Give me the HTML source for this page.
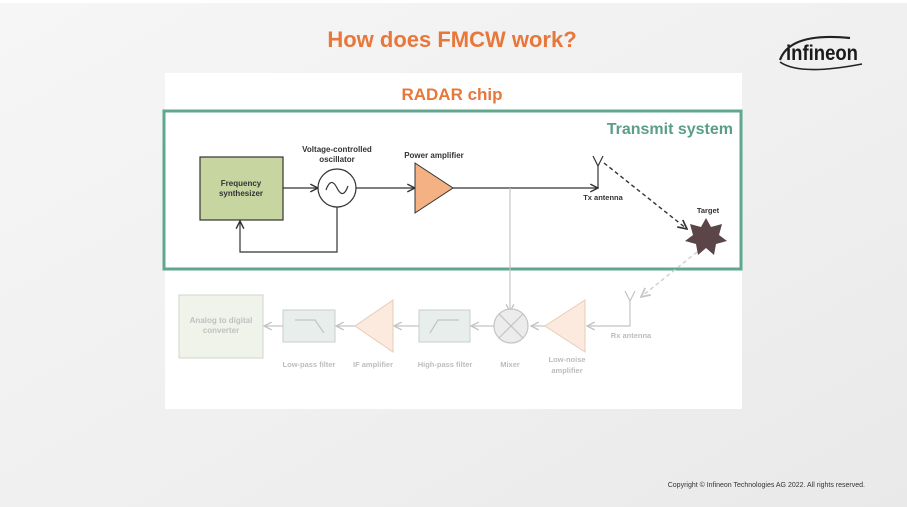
<!DOCTYPE html>
<html><head><meta charset="utf-8"><style>
html,body{margin:0;padding:0;width:907px;height:507px;overflow:hidden;background:#f2f2f2;}
svg{display:block;font-family:"Liberation Sans",sans-serif;}
</style></head><body>
<svg width="907" height="507" viewBox="0 0 907 507" xmlns="http://www.w3.org/2000/svg">
<defs>
<linearGradient id="bg" x1="0" y1="0" x2="1" y2="1">
<stop offset="0" stop-color="#f6f6f6"/><stop offset="0.6" stop-color="#efefef"/><stop offset="1" stop-color="#e9e9e9"/>
</linearGradient>
<marker id="a" viewBox="0 0 10 10" refX="9" refY="5" markerWidth="8" markerHeight="8" orient="auto"><path d="M1 1 L9 5 L1 9" fill="none" stroke="#333" stroke-width="1.5"/></marker>
<marker id="g" viewBox="0 0 10 10" refX="9" refY="5" markerWidth="8" markerHeight="8" orient="auto"><path d="M1 1 L9 5 L1 9" fill="none" stroke="#c4c4c4" stroke-width="1.5"/></marker>
</defs>
<rect width="907" height="507" fill="url(#bg)"/>
<rect x="0" y="0" width="907" height="3" fill="#fff"/>
<text x="452" y="47" text-anchor="middle" font-size="22" font-weight="bold" fill="#e8773a">How does FMCW work?</text>
<!-- logo -->
<path d="M780 60 Q790 32 850 38" fill="none" stroke="#222" stroke-width="2.2"/>
<path d="M780 62 Q800 76 862 64" fill="none" stroke="#222" stroke-width="1.6"/>
<text x="786" y="60" font-size="21" font-weight="bold" fill="#1a1a1a" textLength="72" lengthAdjust="spacingAndGlyphs">infineon</text>
<!-- chart -->
<rect x="165" y="73" width="577" height="336" fill="#ffffff"/>
<text x="452" y="100" text-anchor="middle" font-size="17" font-weight="bold" fill="#e8773a">RADAR chip</text>
<rect x="164" y="111" width="577" height="158" fill="none" stroke="#5fa88e" stroke-width="3"/>
<text x="733" y="134" text-anchor="end" font-size="16" font-weight="bold" fill="#5a9e84">Transmit system</text>
<!-- transmit -->
<rect x="200" y="157" width="83" height="63" fill="#c7d5a0" stroke="#333" stroke-width="1.2"/>
<text x="241" y="186" text-anchor="middle" font-size="8" font-weight="bold" fill="#333">Frequency</text>
<text x="241" y="196" text-anchor="middle" font-size="8" font-weight="bold" fill="#333">synthesizer</text>
<line x1="283" y1="188" x2="318" y2="188" stroke="#333" stroke-width="1.2" marker-end="url(#a)"/>
<circle cx="337" cy="188" r="19" fill="#fff" stroke="#333" stroke-width="1.2"/>
<path d="M326 190 Q331 176 337 188 Q343 200 348 186" fill="none" stroke="#333" stroke-width="1.2"/>
<text x="337" y="152" text-anchor="middle" font-size="8" font-weight="bold" fill="#333">Voltage-controlled</text>
<text x="337" y="162" text-anchor="middle" font-size="8" font-weight="bold" fill="#333">oscillator</text>
<polyline points="337,207 337,252 240,252 240,221" fill="none" stroke="#333" stroke-width="1.2" marker-end="url(#a)"/>
<line x1="356" y1="188" x2="415" y2="188" stroke="#333" stroke-width="1.2" marker-end="url(#a)"/>
<polygon points="415,163 453,188 415,213" fill="#f4b183" stroke="#333" stroke-width="1"/>
<text x="434" y="158" text-anchor="middle" font-size="8" font-weight="bold" fill="#333">Power amplifier</text>
<line x1="453" y1="188" x2="598" y2="188" stroke="#333" stroke-width="1.2" marker-end="url(#a)"/>
<line x1="598" y1="188" x2="598" y2="166" stroke="#333" stroke-width="1.2"/>
<polyline points="593,156 598,166 603,156" fill="none" stroke="#333" stroke-width="1.2"/>
<text x="603" y="200" text-anchor="middle" font-size="7.5" font-weight="bold" fill="#333">Tx antenna</text>
<line x1="604" y1="163" x2="687" y2="229" stroke="#333" stroke-width="1.4" stroke-dasharray="4,3" marker-end="url(#a)"/>
<text x="708" y="213" text-anchor="middle" font-size="7.5" font-weight="bold" fill="#333">Target</text>
<polygon points="706,218 711,227 722,224 719,235 727,241 716,244 714,255 706,248 698,255 696,244 685,241 693,235 690,224 701,227" fill="#5b4548"/>
<!-- receive (faded) -->
<line x1="510" y1="188" x2="510" y2="312" stroke="#c4c4c4" stroke-width="1.2" marker-end="url(#g)"/>
<line x1="697" y1="252" x2="641" y2="297" stroke="#cfcfcf" stroke-width="1.4" stroke-dasharray="4,3" marker-end="url(#g)"/>
<polyline points="625,291 630,301 635,291" fill="none" stroke="#c4c4c4" stroke-width="1.2"/>
<polyline points="630,301 630,326 587,326" fill="none" stroke="#c4c4c4" stroke-width="1.2" marker-end="url(#g)"/>
<text x="631" y="338" text-anchor="middle" font-size="7.5" font-weight="bold" fill="#bdbdbd">Rx antenna</text>
<polygon points="585,300 545,326 585,352" fill="#fbeadd" stroke="#e6cdb8" stroke-width="1"/>
<text x="567" y="362" text-anchor="middle" font-size="7.5" font-weight="bold" fill="#bdbdbd">Low-noise</text>
<text x="567" y="373" text-anchor="middle" font-size="7.5" font-weight="bold" fill="#bdbdbd">amplifier</text>
<line x1="545" y1="326" x2="531" y2="326" stroke="#c4c4c4" stroke-width="1.2" marker-end="url(#g)"/>
<circle cx="511" cy="326" r="17" fill="#ececec" stroke="#c4c4c4" stroke-width="1.2"/>
<line x1="499" y1="314" x2="523" y2="338" stroke="#c4c4c4" stroke-width="1.2"/>
<line x1="523" y1="314" x2="499" y2="338" stroke="#c4c4c4" stroke-width="1.2"/>
<text x="510" y="367" text-anchor="middle" font-size="7.5" font-weight="bold" fill="#bdbdbd">Mixer</text>
<line x1="494" y1="326" x2="471" y2="326" stroke="#c4c4c4" stroke-width="1.2" marker-end="url(#g)"/>
<rect x="419" y="310" width="51" height="32" fill="#e7eeec" stroke="#c8cfcc" stroke-width="1"/>
<polyline points="430,333 438,320 459,320" fill="none" stroke="#c4c4c4" stroke-width="1.2"/>
<text x="445" y="367" text-anchor="middle" font-size="7.5" font-weight="bold" fill="#bdbdbd">High-pass filter</text>
<line x1="419" y1="326" x2="394" y2="326" stroke="#c4c4c4" stroke-width="1.2" marker-end="url(#g)"/>
<polygon points="393,300 355,326 393,352" fill="#fbeadd" stroke="#e6cdb8" stroke-width="1"/>
<text x="373" y="367" text-anchor="middle" font-size="7.5" font-weight="bold" fill="#bdbdbd">IF amplifier</text>
<line x1="355" y1="326" x2="336" y2="326" stroke="#c4c4c4" stroke-width="1.2" marker-end="url(#g)"/>
<rect x="283" y="310" width="52" height="32" fill="#e7eeec" stroke="#c8cfcc" stroke-width="1"/>
<polyline points="295,320 315,320 324,333" fill="none" stroke="#c4c4c4" stroke-width="1.2"/>
<text x="309" y="367" text-anchor="middle" font-size="7.5" font-weight="bold" fill="#bdbdbd">Low-pass filter</text>
<line x1="283" y1="326" x2="264" y2="326" stroke="#c4c4c4" stroke-width="1.2" marker-end="url(#g)"/>
<rect x="179" y="295" width="84" height="63" fill="#f0f3ea" stroke="#d0d4cc" stroke-width="1"/>
<text x="221" y="323" text-anchor="middle" font-size="8" font-weight="bold" fill="#c0c0c0">Analog to digital</text>
<text x="221" y="333" text-anchor="middle" font-size="8" font-weight="bold" fill="#c0c0c0">converter</text>
<text x="865" y="487" text-anchor="end" font-size="7" fill="#333">Copyright © Infineon Technologies AG 2022. All rights reserved.</text>
</svg>
</body></html>
